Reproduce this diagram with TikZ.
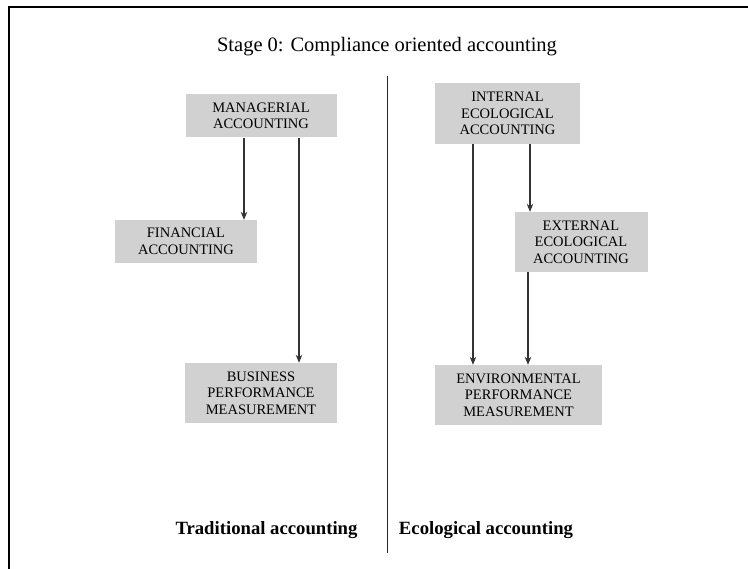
\documentclass[tikz,border=0pt]{standalone}
\usepackage{fontspec}
\setmainfont{Liberation Serif}
\usetikzlibrary{arrows.meta,calc}
\begin{document}
\begin{tikzpicture}[x=1pt,y=-1pt,
  box/.style={fill=black!18, draw=none, align=center, inner sep=0pt,
    font=\fontsize{14.5}{16.5}\selectfont},
  conn/.style={line width=1.1pt, draw=black!80},
  arr/.style={conn, -{Stealth[length=8pt,width=6.5pt]}}]
\useasboundingbox (0,0) rectangle (748,569);
\draw[line width=2pt] (9,569) -- (9,7) -- (748,7);
\node[font=\fontsize{20.5}{24}\selectfont] (title) at (387,47) {Stage 0: Compliance oriented accounting};
\coordinate (dtop) at (387,76);
\coordinate (dbot) at (387,553);
\draw[line width=1pt, draw=black!85] (dtop) -- (dbot);
% left
\node[box, minimum width=151pt, minimum height=43pt] (man) at (261,116) {MANAGERIAL\\ACCOUNTING};
\node[box, minimum width=142pt, minimum height=43pt] (fin) at (186,241.5) {FINANCIAL\\ACCOUNTING};
\node[box, minimum width=152pt, minimum height=60pt] (bus) at (261,393) {BUSINESS\\PERFORMANCE\\MEASUREMENT};
% right
\node[box, minimum width=145pt, minimum height=61pt] (int) at (507.5,113.5) {INTERNAL\\ECOLOGICAL\\ACCOUNTING};
\node[box, minimum width=133pt, minimum height=60pt] (ext) at (581,242) {EXTERNAL\\ECOLOGICAL\\ACCOUNTING};
\node[box, minimum width=167pt, minimum height=60pt] (env) at (518.5,395) {ENVIRONMENTAL\\PERFORMANCE\\MEASUREMENT};
% connectors
\draw[arr] ($(man.south)+(-17,0)$) -- ($(fin.north)+(58,0)$);
\draw[arr] ($(man.south)+(38,0)$) -- ($(bus.north)+(38,0)$);
\draw[arr] ($(int.south)+(22.5,0)$) -- ($(ext.north)+(-51,0)$);
\draw[arr] ($(int.south)+(-34.5,0)$) -- ($(env.north)+(-45.5,0)$);
\draw[arr] ($(ext.south)+(-53,0)$) -- ($(env.north)+(9.5,0)$);
% bottom labels
\node[font=\bfseries\fontsize{18.7}{22}\selectfont] (trad) at (266.5,530) {Traditional accounting};
\node[font=\bfseries\fontsize{18.7}{22}\selectfont] (eco) at (486,530) {Ecological accounting};
\end{tikzpicture}
\end{document}
